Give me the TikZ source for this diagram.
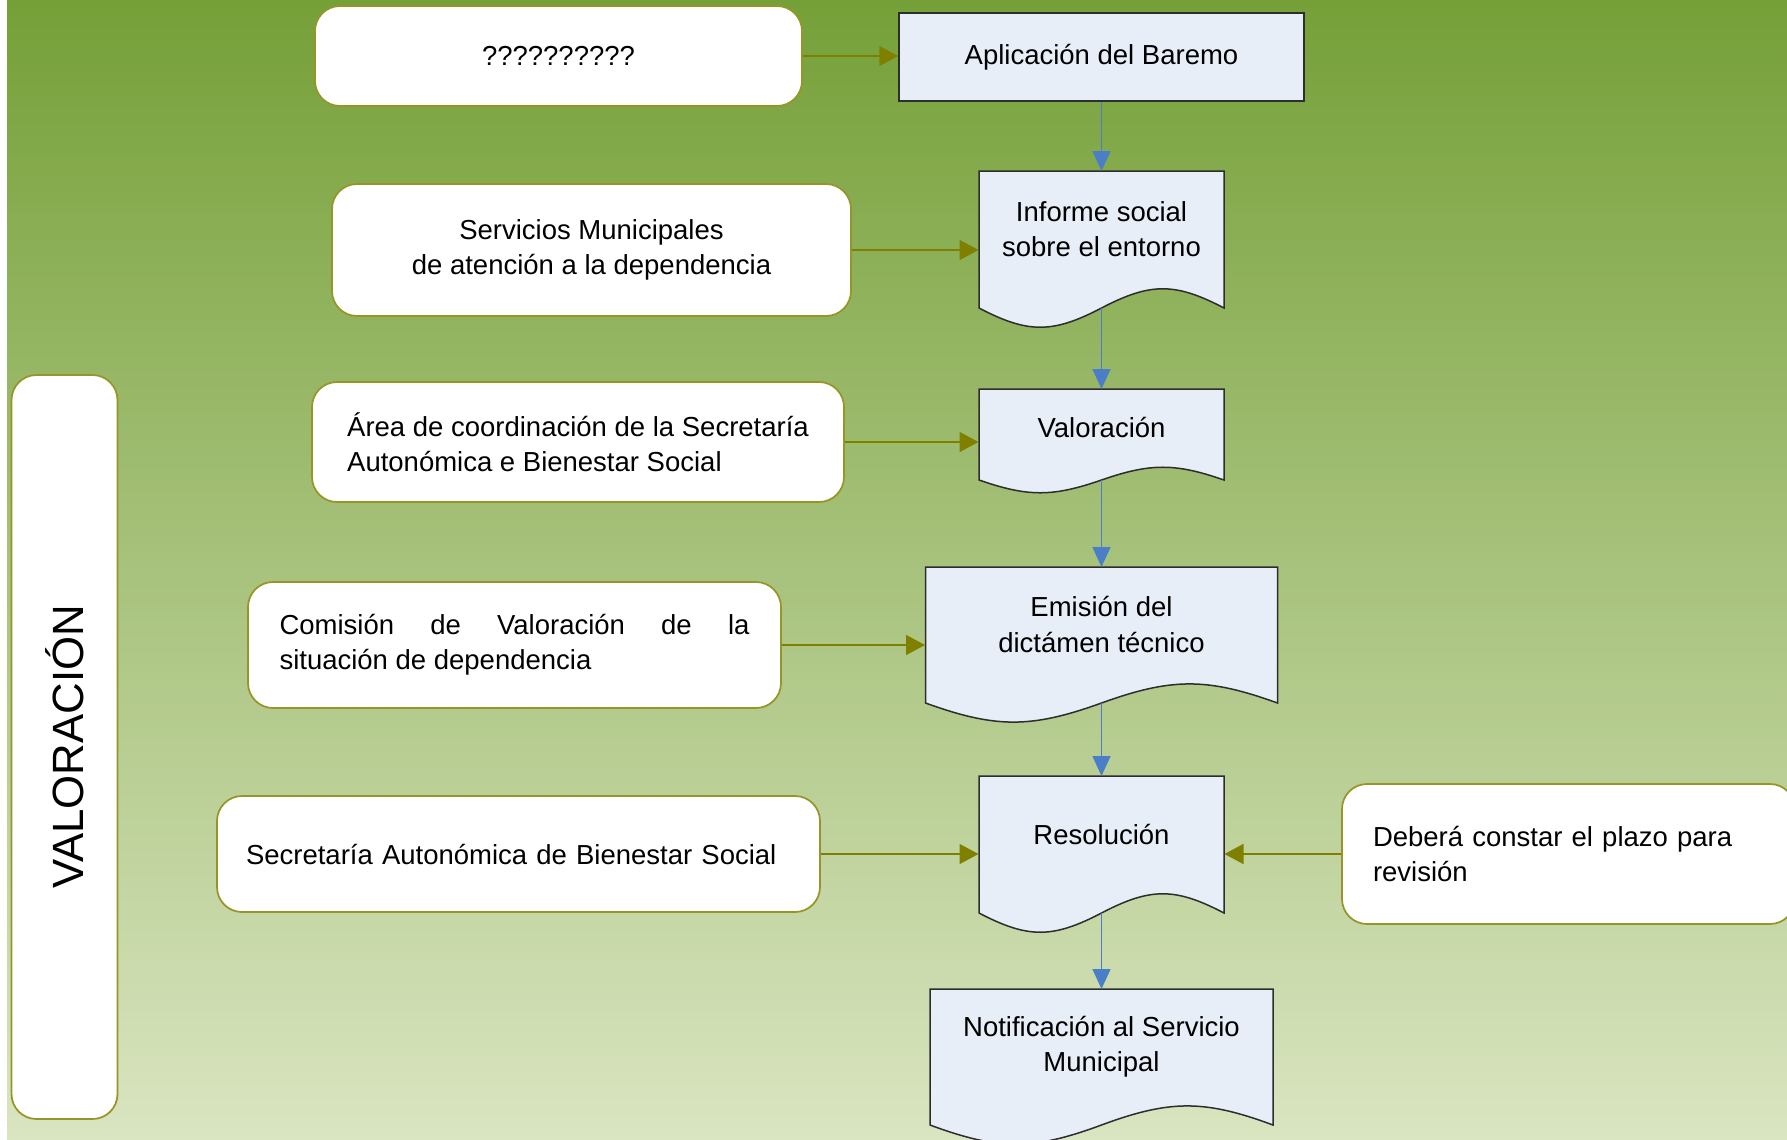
\documentclass[tikz,border=0pt]{standalone}
\usepackage{fontspec}
\setmainfont{Liberation Sans}
\usetikzlibrary{arrows.meta,calc}
\pgfdeclarelayer{bg}
\pgfdeclarelayer{shapes}
\pgfsetlayers{bg,shapes,main}
\definecolor{olivebd}{RGB}{150,150,40}
\definecolor{olivear}{RGB}{128,128,0}
\definecolor{bluear}{RGB}{74,126,200}
\definecolor{docfill}{RGB}{232,238,248}
\definecolor{docline}{RGB}{45,45,45}
\definecolor{bgtop}{RGB}{117,160,56}
\definecolor{bgbot}{RGB}{218,229,193}
\def\pxu{0.4pt}
\tikzset{
  txt/.style={font=\fontsize{11}{14.1}\selectfont, text=black},
  rbox/.style={txt, draw=olivebd, fill=white, line width=0.7pt, rounded corners=10pt, inner sep=0pt},
  docrect/.style={txt, draw=docline, fill=docfill, line width=0.6pt, inner sep=0pt, align=center},
  doctext/.style={txt, inner sep=0pt, align=center},
  docedge/.style={draw=docline, fill=docfill, line width=0.6pt},
  flow/.style={draw=bluear, line width=0.6pt, -{Triangle[length=8pt,width=7.2pt]}},
  feed/.style={draw=olivear, line width=0.6pt, -{Triangle[length=7.6pt,width=8pt]}},
}
% #1 name, #2 centre x, #3 top y, #4 width, #5 side height, #6 text
\newcommand\docnode[6]{%
  \node[doctext, anchor=north, minimum width={#4*\pxu}, minimum height={0.84*#5*\pxu}] (#1) at (#2,#3) {#6};
  \coordinate (#1-b) at (#2,{#3+#5});
  \begin{pgfonlayer}{shapes}
  \path[docedge] ({#2-#4/2},#3) -- ({#2+#4/2},#3) -- ({#2+#4/2},{#3+#5})
    .. controls +({-0.2*#4},{-0.187*#5}) and +({0.2*#4},{-0.187*#5}) .. (#1-b)
    .. controls +({-0.2*#4},{0.187*#5}) and +({0.2*#4},{0.187*#5}) .. ({#2-#4/2},{#3+#5}) -- cycle;
  \end{pgfonlayer}
}
\begin{document}
\begin{tikzpicture}[x=0.4pt,y=-0.4pt]
\useasboundingbox (0,0) rectangle (1787,1140);
\clip (0,0) rectangle (1787,1140);
\begin{pgfonlayer}{bg}
  \fill[white] (0,0) rectangle (1787,1140);
  \shade[top color=bgtop, bottom color=bgbot] (7,0) rectangle (1787,1140);
\end{pgfonlayer}

% lane label
\node[rbox, rotate=90, minimum width={744*\pxu}, minimum height={106*\pxu},
      font=\fontsize{17.5}{20}\selectfont] (lane) at (64.5,747) {VALORACIÓN};

% left / right information boxes
\node[rbox, minimum width={487*\pxu}, minimum height={100*\pxu}] (q) at (558.5,56) {??????????};
\node[rbox, align=center, minimum width={519*\pxu}, minimum height={132*\pxu}] (srv) at (591.5,250)
  {Servicios Municipales\\de atención a la dependencia};
\node[rbox, align=left, minimum width={532*\pxu}, minimum height={120*\pxu}] (area) at (578,442)
  {Área de coordinación de la Secretaría\\Autonómica e Bienestar Social};
\node[rbox, align=left, minimum width={533*\pxu}, minimum height={126*\pxu}] (com) at (514.5,645)
  {\makebox[188pt][s]{Comisión de Valoración de la}\\situación de dependencia};
\node[rbox, align=left, text width={545*\pxu}, minimum width={603*\pxu}, minimum height={116*\pxu}] (sec) at (518.5,854)
  {Secretaría Autonómica de Bienestar Social};
\node[rbox, align=left, text width={391*\pxu}, minimum width={453*\pxu}, minimum height={140*\pxu}] (plazo) at (1568.5,854)
  {Deberá constar el plazo para\\revisión};

% process column
\node[docrect, minimum width={405*\pxu}, minimum height={88*\pxu}] (apl) at (1101.5,57) {Aplicación del Baremo};
\docnode{inf}{1101.5}{171}{245}{137}{Informe social\\sobre el entorno}
\docnode{val}{1101.5}{389}{245}{91}{Valoración}
\docnode{emi}{1101.5}{567}{352}{136}{Emisión del\\dictámen técnico}
\docnode{res}{1101.5}{776}{245}{137}{Resolución}
\docnode{ntf}{1101.5}{989}{343}{136}{Notificación al Servicio\\Municipal}

% feeding connectors
\draw[feed] (q.east) -- (q.east -| apl.west);
\draw[feed] (srv.east) -- (srv.east -| inf.west);
\draw[feed] (area.east) -- (area.east -| val.west);
\draw[feed] (com.east) -- (com.east -| emi.west);
\draw[feed] (sec.east) -- (sec.east -| res.west);
\draw[feed] (plazo.west) -- (plazo.west -| res.east);

% main flow
\draw[flow] (apl.south) -- (inf.north);
\draw[flow] (inf-b) -- (val.north);
\draw[flow] (val-b) -- (emi.north);
\draw[flow] (emi-b) -- (res.north);
\draw[flow] (res-b) -- (ntf.north);
\end{tikzpicture}
\end{document}
